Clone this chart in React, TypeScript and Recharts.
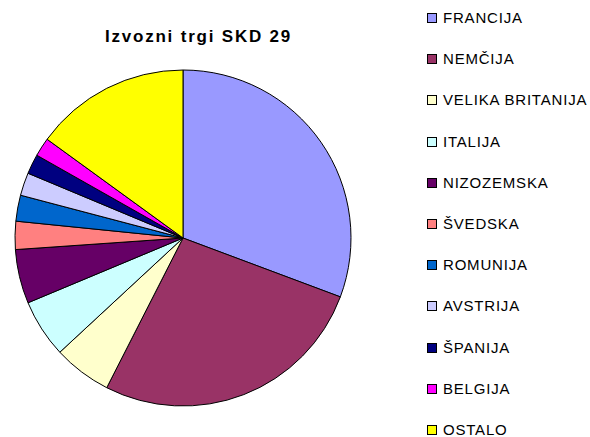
import React from 'react';
import { PieChart, Pie, Cell, Legend } from 'recharts';

const countries = [
  'FRANCIJA',
  'NEMČIJA',
  'VELIKA BRITANIJA',
  'ITALIJA',
  'NIZOZEMSKA',
  'ŠVEDSKA',
  'ROMUNIJA',
  'AVSTRIJA',
  'ŠPANIJA',
  'BELGIJA',
  'OSTALO',
];

// share of exports, %
const shares = [30.7, 26.8, 5.6, 5.6, 5.2, 2.7, 2.5, 2.2, 1.9, 1.8, 15.0];

const colors = [
  '#9999FF',
  '#993366',
  '#FFFFCC',
  '#CCFFFF',
  '#660066',
  '#FF8080',
  '#0066CC',
  '#CCCCFF',
  '#000080',
  '#FF00FF',
  '#FFFF00',
];

const data = countries.map((name, i) => ({ name, value: shares[i] }));

const font = '"Liberation Sans", Arial, sans-serif';

function LegendBox() {
  return (
    <div style={{ position: 'relative', width: 163, height: 437, fontFamily: font }}>
      {countries.map((name, i) => (
        <div
          key={name}
          style={{
            position: 'absolute',
            left: 0,
            top: 18 + i * 41.2 - 7,
            height: 14,
            display: 'flex',
            alignItems: 'center',
            whiteSpace: 'nowrap',
          }}
        >
          <span
            style={{
              display: 'inline-block',
              width: 8,
              height: 8,
              background: colors[i],
              border: '1px solid #000',
              marginRight: 6,
            }}
          />
          <span style={{ fontSize: 15, lineHeight: '14px', letterSpacing: 0.8, color: '#000' }}>{name}</span>
        </div>
      ))}
    </div>
  );
}

export default function App() {
  return (
    <div style={{ position: 'absolute', left: 0, top: 0, width: 590, height: 437, background: '#fff' }}>
      <div
        style={{
          position: 'absolute',
          left: 0,
          width: 397,
          top: 27,
          textAlign: 'center',
          fontFamily: font,
          fontWeight: 'bold',
          fontSize: 17,
          letterSpacing: 1.8,
          color: '#000',
          zIndex: 1,
        }}
      >
        Izvozni trgi SKD 29
      </div>
      <PieChart width={590} height={437} margin={{ top: 0, right: 0, bottom: 0, left: 0 }}>
        <Pie
          data={data}
          dataKey="value"
          nameKey="name"
          cx={183}
          cy={238}
          outerRadius={168}
          startAngle={90}
          endAngle={-270}
          stroke="#000"
          strokeWidth={1}
          isAnimationActive={false}
        >
          {data.map((entry, index) => (
            <Cell key={`cell-${index}`} fill={colors[index]} />
          ))}
        </Pie>
        <Legend
          content={() => <LegendBox />}
          wrapperStyle={{ position: 'absolute', left: 427, top: 0, width: 163, height: 437 }}
        />
      </PieChart>
    </div>
  );
}
